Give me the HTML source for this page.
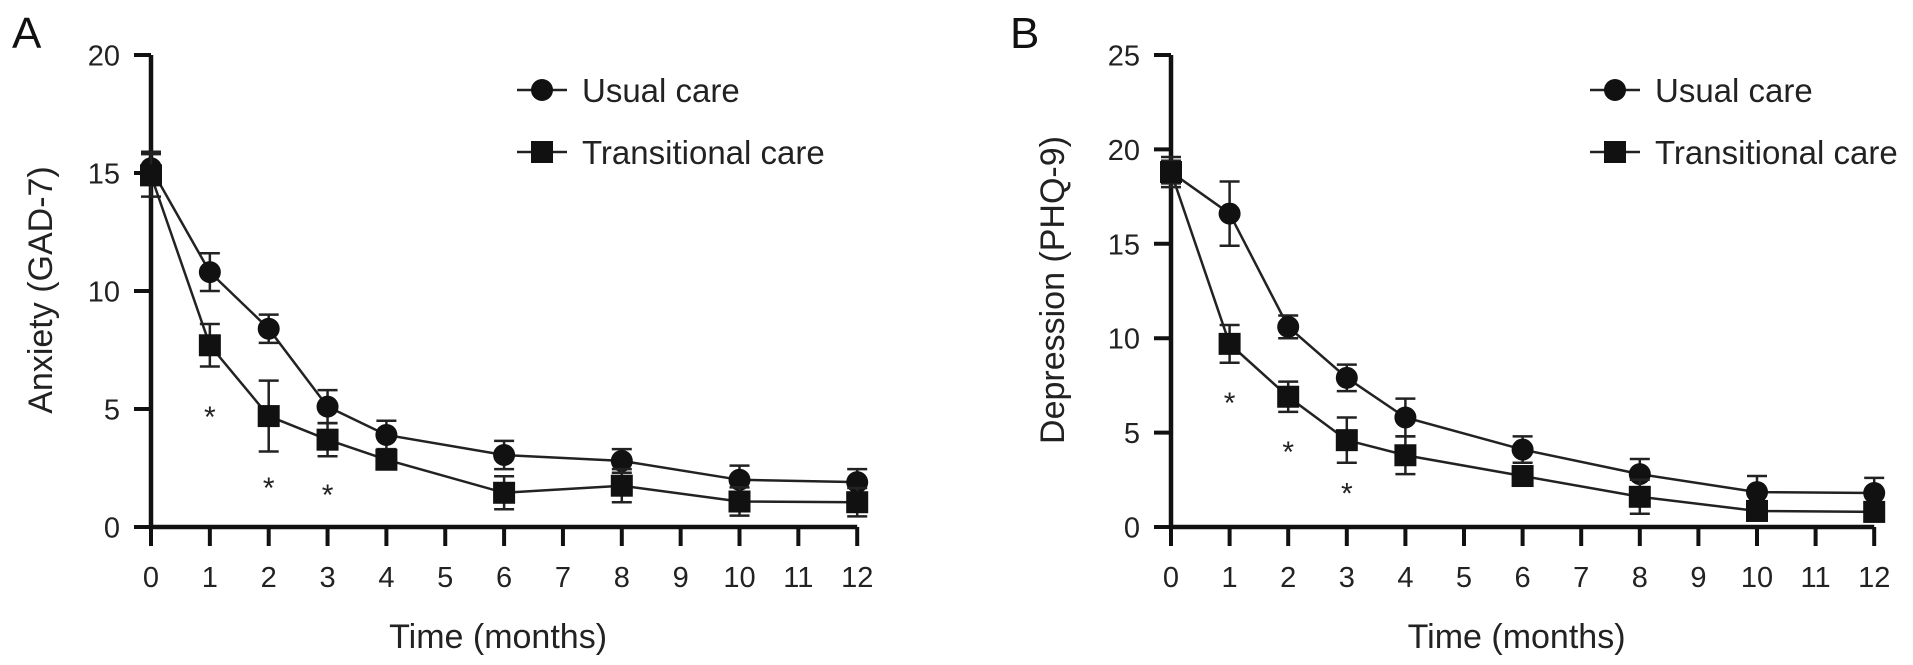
<!DOCTYPE html>
<html><head><meta charset="utf-8"><style>
html,body{margin:0;padding:0;background:#fff;}
svg{display:block;font-family:"Liberation Sans",Arial,sans-serif;}
</style></head><body>
<svg id="fig" width="1913" height="665" viewBox="0 0 1913 665"></svg>
<script>
const months = [0,1,2,3,4,6,8,10,12];
const xTicks = [0,1,2,3,4,5,6,7,8,9,10,11,12];
const ticksA = [0,5,10,15,20];
const ticksB = [0,5,10,15,20,25];
const usualA = [15.2,10.8,8.4,5.1,3.9,3.05,2.8,2.0,1.9];
const usualAErr = [0.7,0.8,0.6,0.7,0.6,0.6,0.5,0.6,0.55];
const transA = [14.9,7.7,4.7,3.7,2.85,1.45,1.75,1.08,1.05];
const transAErr = [0.9,0.9,1.5,0.7,0.3,0.7,0.7,0.6,0.6];
const starMonthsA = [1,2,3];
const starValsA = [5.0,2.0,1.7];
const usualB = [18.8,16.6,10.6,7.9,5.8,4.1,2.8,1.85,1.8];
const usualBErr = [0.8,1.7,0.6,0.7,1.0,0.7,0.8,0.85,0.8];
const transB = [18.8,9.7,6.9,4.6,3.8,2.7,1.6,0.85,0.8];
const transBErr = [0.6,1.0,0.8,1.2,1.0,0.4,0.9,0.5,0.5];
const starMonthsB = [1,2,3];
const starValsB = [7.0,4.4,2.2];

const NS="http://www.w3.org/2000/svg";
const svg=document.getElementById('fig');
function el(tag,attrs,parent,txt){const e=document.createElementNS(NS,tag);for(const k in attrs)e.setAttribute(k,attrs[k]);if(txt!==undefined)e.textContent=txt;(parent||svg).appendChild(e);return e;}

function panel(cfg){
  const g=el('g',{});
  
  
  const x0=cfg.x0,unit=cfg.unit,yTop=55,yBot=527;
  const ymax=cfg.ticks[cfg.ticks.length-1];
  const X=m=>x0+m*unit;
  const Y=v=>yBot-(v/ymax)*(yBot-yTop);
  const lt=el('text',{x:cfg.letterX,y:48,'font-size':44,fill:'#111'},g,cfg.letter);
  
  
  const ax=el('path',{d:`M${x0} ${yTop}V${yBot}H${X(12)}`,stroke:'#111','stroke-width':4.5,fill:'none'},g);
  
  
  cfg.ticks.forEach(t=>{
    el('line',{x1:x0-17,x2:x0,y1:Y(t),y2:Y(t),stroke:'#111','stroke-width':4},g);
    const tl=el('text',{x:x0-31,y:Y(t)+10.5,'font-size':29,'text-anchor':'end',fill:'#222'},g,String(t));
    
    
  });
  xTicks.forEach(t=>{
    el('line',{x1:X(t),x2:X(t),y1:yBot,y2:yBot+19,stroke:'#111','stroke-width':4},g);
    const tl=el('text',{x:X(t),y:587,'font-size':29,'text-anchor':'middle',fill:'#222'},g,String(t));
    
    
  });
  const xt=el('text',{x:(x0+X(12))/2-6,y:648,'font-size':34,'text-anchor':'middle',fill:'#222'},g,'Time (months)');
  
  
  const yt=el('text',{x:0,y:0,'font-size':34,'text-anchor':'middle',fill:'#222',transform:`translate(${cfg.yTitleX},290) rotate(-90)`},g,cfg.yTitle);
  
  
  const series=[{v:cfg.usual,e:cfg.usualErr,shape:'circle',name:'usual-care'},{v:cfg.trans,e:cfg.transErr,shape:'square',name:'transitional-care'}];
  series.forEach(s=>{
    const sg=el('g',{},g);
    
    
    const pts=months.map((m,i)=>`${X(m)},${Y(s.v[i])}`).join(' ');
    el('polyline',{points:pts,fill:'none',stroke:'#222','stroke-width':2.5},sg);
    months.forEach((m,i)=>{
      const cx=X(m),cy=Y(s.v[i]),t=Y(s.v[i]+s.e[i]),b=Y(Math.max(0,s.v[i]-s.e[i]));
      el('path',{d:`M${cx} ${t}V${b}M${cx-10} ${t}H${cx+10}M${cx-10} ${b}H${cx+10}`,stroke:'#222','stroke-width':2.5,fill:'none'},sg);
      let mk;
      if(s.shape==='circle') mk=el('circle',{cx:cx,cy:cy,r:11,fill:'#111'},sg);
      else mk=el('rect',{x:cx-11,y:cy-11,width:22,height:22,fill:'#111'},sg);
      
      
    });
  });
  cfg.starM.forEach((m,i)=>{
    const st=el('text',{x:X(m),y:Y(cfg.starV[i])+18,'font-size':30,'text-anchor':'middle',fill:'#222'},g,'*');
    
    
  });
  const lg=el('g',{},g);
  
  
  const lx=cfg.legendX;
  [[90,'circle','Usual care'],[152,'square','Transitional care']].forEach(r=>{
    const eg=el('g',{},lg);
    
    
    el('line',{x1:lx-25,x2:lx+25,y1:r[0],y2:r[0],stroke:'#222','stroke-width':2.5},eg);
    if(r[1]==='circle') el('circle',{cx:lx,cy:r[0],r:11,fill:'#111'},eg);
    else el('rect',{x:lx-11,y:r[0]-11,width:22,height:22,fill:'#111'},eg);
    el('text',{x:lx+40,y:r[0]+12,'font-size':33,fill:'#222'},eg,r[2]);
  });
}
panel({name:'panel-a-anxiety',letter:'A',letterX:12,x0:151,unit:58.85,ticks:ticksA,yTitle:'Anxiety (GAD-7)',yTitleX:52,
  usual:usualA,usualErr:usualAErr,trans:transA,transErr:transAErr,starM:starMonthsA,starV:starValsA,legendX:542});
panel({name:'panel-b-depression',letter:'B',letterX:1010,x0:1171,unit:58.6,ticks:ticksB,yTitle:'Depression (PHQ-9)',yTitleX:1064,
  usual:usualB,usualErr:usualBErr,trans:transB,transErr:transBErr,starM:starMonthsB,starV:starValsB,legendX:1615});
</script>
</body></html>
